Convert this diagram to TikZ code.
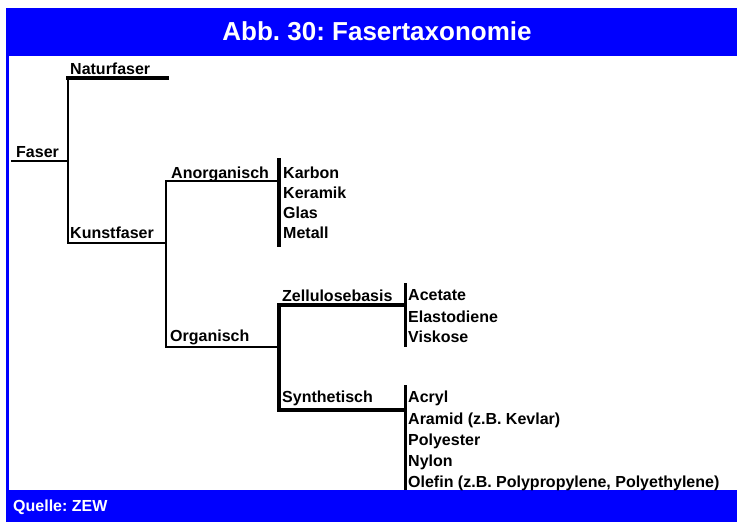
\documentclass[tikz,border=0pt]{standalone}
\usepackage{fontspec}
\setmainfont{Liberation Sans}
\definecolor{frameblue}{RGB}{0,0,255}
\frenchspacing
\tikzset{
  lbl/.style={anchor=base west,inner sep=0pt,font=\bfseries\fontsize{16}{19}\selectfont},
  wlbl/.style={lbl,text=white},
  thin/.style={line width=1.5pt,line cap=rect},
  med/.style={line width=2.3pt,line cap=rect},
  thick/.style={line width=3.7pt,line cap=rect},
}
\begin{document}
\begin{tikzpicture}[x=1pt,y=-1pt]
\useasboundingbox (0,0) rectangle (737,522);
% frame
\fill[frameblue] (6,8) rectangle (737,56);
\fill[frameblue] (6,490) rectangle (737,522);
\fill[frameblue] (6,8) rectangle (9,522);
\node[anchor=base,inner sep=0pt,text=white,font=\bfseries\fontsize{26}{30}\selectfont] (title) at (377,40) {Abb. 30: Fasertaxonomie};
\node[wlbl] (quelle) at (13,511) {Quelle: ZEW};
% coordinates
\coordinate (f0) at (12,161);
\coordinate (f1) at (68,161);
\coordinate (n0) at (68,78);
\coordinate (n1) at (167,78);
\coordinate (k0) at (68,243);
\coordinate (k1) at (166,243);
\coordinate (a0) at (166,181);
\coordinate (a1) at (279,181);
\coordinate (ab0) at (279,160);
\coordinate (ab1) at (279,245);
\coordinate (o0) at (166,347);
\coordinate (o1) at (279,347);
\coordinate (z0) at (279,305);
\coordinate (z1) at (405,305);
\coordinate (s0) at (279,410);
\coordinate (s1) at (405,410);
\coordinate (zb0) at (405,283);
\coordinate (zb1) at (405,347);
\coordinate (sb0) at (405,385);
\coordinate (sb1) at (405,490);
% labels
\node[lbl] (faser) at (16,157) {Faser};
\node[lbl] (natur) at (70,74) {Naturfaser};
\node[lbl] (kunst) at (70,238) {Kunstfaser};
\node[lbl] (anorg) at (171,178) {Anorganisch};
\node[lbl] (karbon) at (283,178) {Karbon};
\node[lbl] (keramik) at (283,198) {Keramik};
\node[lbl] (glas) at (283,218) {Glas};
\node[lbl] (metall) at (283,238) {Metall};
\node[lbl] (org) at (170,341) {Organisch};
\node[lbl] (zell) at (282,301) {Zellulosebasis};
\node[lbl] (synth) at (282,402) {Synthetisch};
\node[lbl] (acetate) at (408,300) {Acetate};
\node[lbl] (elasto) at (408,322) {Elastodiene};
\node[lbl] (viskose) at (408,342) {Viskose};
\node[lbl] (acryl) at (408,402) {Acryl};
\node[lbl] (aramid) at (408,424) {Aramid (z.B. Kevlar)};
\node[lbl] (polyester) at (408,445) {Polyester};
\node[lbl] (nylon) at (408,466) {Nylon};
\node[lbl] (olefin) at (408,487) {Olefin (z.B. Polypropylene, Polyethylene)};
% tree
\draw[med] (f0) -- (f1);
\draw[line width=2pt] (n0) -- (k0);
\draw[thick] (n0) -- (n1);
\draw[med] (k0) -- (k1);
\draw[line width=2pt] (a0) -- (o0);
\draw[med] (a0) -- (a1);
\draw[thick] (ab0) -- (ab1);
\draw[thin] (o0) -- (o1);
\draw[thick] (z0) -- (s0);
\draw[thick] (z0) -- (z1);
\draw[thick] (s0) -- (s1);
\draw[line width=3pt] (zb0) -- (zb1);
\draw[line width=3pt] (sb0) -- (sb1);
\end{tikzpicture}
\end{document}
